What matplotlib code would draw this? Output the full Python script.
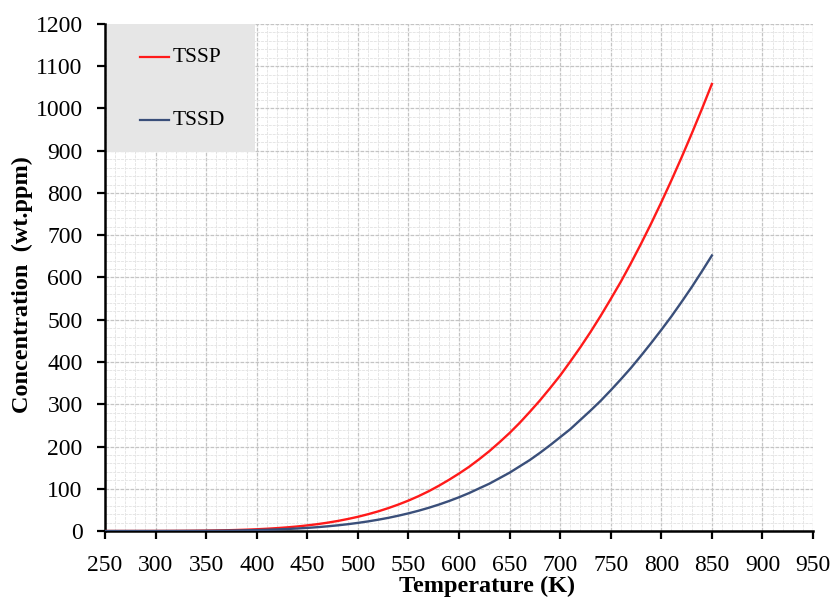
import matplotlib
matplotlib.use("Agg")
import matplotlib.pyplot as plt
from matplotlib.patches import Rectangle
from matplotlib.lines import Line2D

temperature = list(range(250, 851, 10))
tssp = [0.008, 0.015, 0.027, 0.047, 0.078, 0.127, 0.199, 0.303, 0.45, 0.654,
        0.93, 1.3, 1.77, 2.39, 3.17, 4.15, 5.35, 6.83, 8.61, 10.7,
        13.3, 16.2, 19.7, 23.7, 28.4, 33.6, 39.7, 46.4, 54.1, 62.6,
        72, 82.5, 94.1, 107, 121, 136, 152, 170, 189, 210,
        232, 256, 282, 309, 338, 368, 401, 435, 471, 509,
        549, 590, 634, 680, 728, 778, 830, 884, 940, 998, 1058]
tssd = [0.004, 0.007, 0.013, 0.023, 0.039, 0.064, 0.101, 0.155, 0.233, 0.341,
        0.488, 0.686, 0.946, 1.28, 1.71, 2.25, 2.93, 3.75, 4.76, 5.96,
        7.4, 9.11, 11.1, 13.4, 16.1, 19.2, 22.7, 26.7, 31.1, 36.2,
        41.8, 48, 54.9, 62.5, 70.8, 79.9, 89.8, 101, 112, 125,
        138, 153, 168, 185, 203, 222, 241, 263, 285, 308,
        333, 359, 386, 415, 445, 476, 508, 542, 577, 614, 652]
series_names = ["TSSP", "TSSD"]
series_colors = ["#ff1a1a", "#3a4f7a"]
x_ticks = list(range(250, 951, 50))
y_ticks = list(range(0, 1201, 100))

plt.rcParams['font.family'] = ['Liberation Serif', 'DejaVu Serif']

fig = plt.figure(figsize=(8.35, 5.99), dpi=100)
ax = fig.add_axes([0.1257, 0.1135, 0.848, 0.8465])

ax.set_xlim(250, 950)
ax.set_ylim(0, 1200)
ax.set_xticks(x_ticks)
ax.set_yticks(y_ticks)
ax.set_xticks(range(250, 951, 10), minor=True)
ax.set_yticks(range(0, 1201, 20), minor=True)
ax.grid(which='major', color='#c4c4c4', linewidth=0.9, linestyle=(0, (3, 1)))
ax.grid(which='minor', color='#e6e6e6', linewidth=0.7, linestyle=(0, (3, 1)))
ax.set_axisbelow(True)

ax.plot(temperature, tssp, color=series_colors[0], linewidth=1.7, zorder=3)
ax.plot(temperature, tssd, color=series_colors[1], linewidth=1.7, zorder=3)

for side in ['top', 'right']:
    ax.spines[side].set_visible(False)
for side in ['left', 'bottom']:
    ax.spines[side].set_linewidth(1.8)
    ax.spines[side].set_color('black')

ax.tick_params(which='major', direction='out', length=6, width=1.6, labelsize=17,
               colors='black')
ax.tick_params(axis='x', which='major', pad=11)
ax.tick_params(axis='y', which='major', pad=10)
ax.tick_params(which='minor', length=0)

ax.set_xlabel('Temperature (K)', fontsize=17.5, fontweight='bold')
ax.set_ylabel('Concentration  (wt.ppm)', fontsize=17.5, fontweight='bold')
ax.xaxis.set_label_coords(0.5395, -0.089)
ax.yaxis.set_label_coords(-0.102, 0.487)

# legend box
ax.add_patch(Rectangle((0.003, 0.748), 0.209, 0.252, transform=ax.transAxes,
                       facecolor='#e6e6e6', edgecolor='none', zorder=4))
leg_y = [0.934, 0.81]
for name, color, yy in zip(series_names, series_colors, leg_y):
    ax.add_line(Line2D([0.05, 0.09], [yy, yy], transform=ax.transAxes,
                       color=color, linewidth=1.6, zorder=5))
    ax.text(0.096, yy, name, transform=ax.transAxes, fontsize=15.5,
            va='center', ha='left', zorder=5)

fig.savefig('out.png', dpi=100)
